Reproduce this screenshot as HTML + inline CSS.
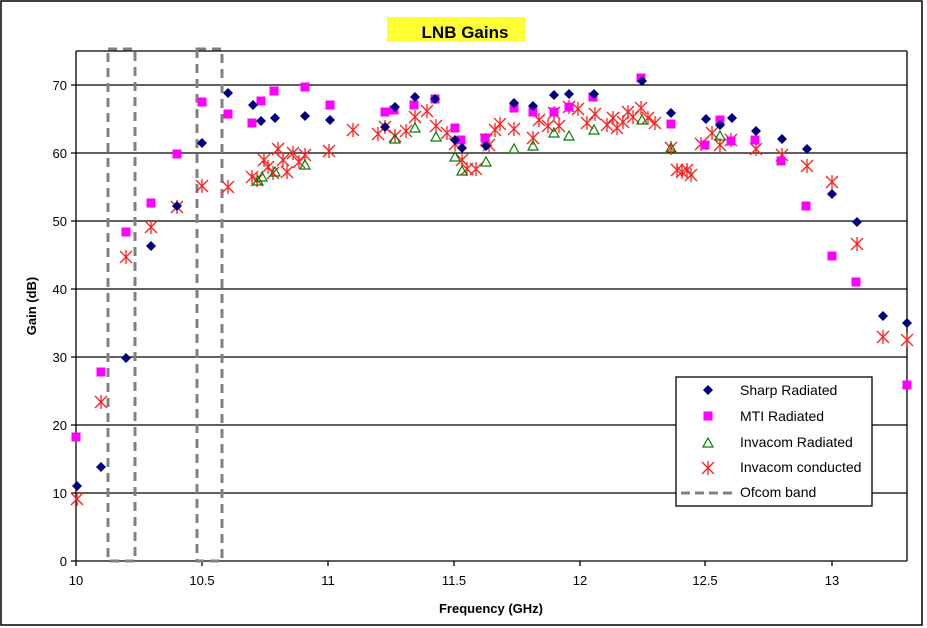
<!DOCTYPE html>
<html><head><meta charset="utf-8"><style>
body{margin:0;background:#fff;}
svg{display:block;font-family:"Liberation Sans",Arial,sans-serif;}
</style></head><body>
<svg id="s" width="927" height="628" xmlns="http://www.w3.org/2000/svg">
<rect x="1" y="1" width="921" height="624" fill="#fff" stroke="#000" stroke-width="1.5"/>
<rect x="387" y="17" width="138" height="25" fill="#ffff33"/>
<text x="465" y="38" text-anchor="middle" font-size="17" font-weight="bold">LNB Gains</text>
<g stroke="#000" stroke-width="1.3">
<line x1="76" y1="493" x2="907" y2="493"/><line x1="76" y1="425" x2="907" y2="425"/>
<line x1="76" y1="357" x2="907" y2="357"/><line x1="76" y1="289" x2="907" y2="289"/>
<line x1="76" y1="221" x2="907" y2="221"/><line x1="76" y1="153" x2="907" y2="153"/>
<line x1="76" y1="85" x2="907" y2="85"/>
<line x1="76" y1="51" x2="907" y2="51"/>
<line x1="907" y1="51" x2="907" y2="561"/>
<line x1="76" y1="51" x2="76" y2="561"/>
<line x1="76" y1="561" x2="907" y2="561"/>
<path d="M76 561v5M202 561v5M328 561v5M454 561v5M580 561v5M705 561v5M832 561v5M71 561h5M71 493h5M71 425h5M71 357h5M71 289h5M71 221h5M71 153h5M71 85h5"/>
</g>
<g stroke="#808080" stroke-width="3" stroke-dasharray="9,6" fill="none">
<rect x="108" y="49" width="27" height="512"/>
<rect x="197" y="49" width="25" height="512"/>
</g>
<g font-size="13" fill="#000" text-anchor="end">
<text x="67" y="566">0</text><text x="67" y="498">10</text><text x="67" y="430">20</text>
<text x="67" y="362">30</text><text x="67" y="294">40</text><text x="67" y="226">50</text>
<text x="67" y="158">60</text><text x="67" y="90">70</text>
</g>
<g font-size="13" text-anchor="middle">
<text x="76" y="585">10</text><text x="202" y="585">10.5</text><text x="328" y="585">11</text>
<text x="454" y="585">11.5</text><text x="580" y="585">12</text><text x="705" y="585">12.5</text>
<text x="832" y="585">13</text>
</g>
<text x="491" y="613" text-anchor="middle" font-size="13" font-weight="bold">Frequency (GHz)</text>
<text transform="translate(36,306) rotate(-90)" text-anchor="middle" font-size="13" font-weight="bold">Gain (dB)</text>
<g id="pts"></g>
<rect x="676" y="377" width="196" height="129" fill="#fff" stroke="#000" stroke-width="1.3"/>
<g font-size="14" fill="#000">
<text x="740" y="395">Sharp Radiated</text>
<text x="740" y="421">MTI Radiated</text>
<text x="740" y="447">Invacom Radiated</text>
<text x="740" y="472">Invacom conducted</text>
<text x="740" y="497">Ofcom band</text>
</g>
<line x1="681" y1="493" x2="736" y2="493" stroke="#808080" stroke-width="3" stroke-dasharray="9,5"/>
<g id="leg"></g>
</svg>
<script>
var NS="http://www.w3.org/2000/svg";
function el(p,t,a){var e=document.createElementNS(NS,t);for(var k in a)e.setAttribute(k,a[k]);p.appendChild(e);return e;}
var g=document.getElementById("pts"),L=document.getElementById("leg");
function dia(p,x,y){el(p,"polygon",{points:(x)+","+(y-5)+" "+(x+5)+","+y+" "+x+","+(y+5)+" "+(x-5)+","+y,fill:"#000080"});}
function sq(p,x,y){el(p,"rect",{x:x-4.5,y:y-4.5,width:9,height:9,fill:"#ff00ff"});}
function tri(p,x,y){el(p,"polygon",{points:x+","+(y-5)+" "+(x+5)+","+(y+4)+" "+(x-5)+","+(y+4),fill:"none",stroke:"#008000","stroke-width":1.2});}
function ast(p,x,y){var s="#ff2020",w=1.3;el(p,"line",{x1:x-6,y1:y-6,x2:x+6,y2:y+6,stroke:s,"stroke-width":w});el(p,"line",{x1:x-6,y1:y+6,x2:x+6,y2:y-6,stroke:s,"stroke-width":w});el(p,"line",{x1:x,y1:y-7,x2:x,y2:y+7,stroke:s,"stroke-width":w});}
var C=[[77,499],[101,402],[126,257],[151,227],[177,207],[202,186],[228,187],[252,177],[257,180],[264,160],[268,167],[273,173],[278,149],[283,160],[287,172],[293,153],[299,162],[305,155],[329,151],[353,130],[378,134],[385,127],[395,136],[406,131],[415,117],[427,111],[436,126],[447,133],[455,144],[462,160],[467,169],[476,169],[486,140],[489,145],[495,130],[500,124],[514,129],[533,138],[539,120],[548,126],[554,113],[559,126],[569,107],[578,109],[587,123],[595,114],[607,125],[613,118],[617,128],[623,122],[628,112],[633,117],[641,108],[648,118],[655,123],[671,148],[677,170],[682,172],[687,170],[691,175],[701,144],[712,133],[720,145],[731,140],[756,149],[782,155],[807,166],[832,182],[857,244],[883,337],[907,340]];
var T=[[258,181],[262,177],[275,172],[305,165],[395,139],[415,128],[436,137],[455,157],[462,171],[486,162],[514,149],[533,146],[554,133],[569,136],[594,130],[642,120],[671,148],[720,136]];
var M=[[76,437],[101,372],[126,232],[151,203],[177,154],[202,102],[228,114],[252,123],[261,101],[274,91],[305,87],[330,105],[385,112],[394,110],[414,105],[435,99],[455,128],[461,140],[485,138],[514,108],[533,112],[554,112],[569,107],[593,97],[641,78],[671,124],[720,120],[705,145],[731,141],[755,140],[781,161],[806,206],[832,256],[856,282],[907,385]];
var S=[[77,486],[101,467],[126,358],[151,246],[177,206],[202,143],[228,93],[253,105],[261,121],[275,118],[305,116],[330,120],[385,127],[395,107],[415,97],[435,99],[455,140],[462,148],[486,146],[514,103],[533,106],[554,95],[569,94],[594,94],[642,81],[671,113],[706,119],[720,125],[732,118],[756,131],[782,139],[807,149],[832,194],[857,222],[883,316],[907,323]];
C.forEach(function(p){ast(g,p[0],p[1]);});
T.forEach(function(p){tri(g,p[0],p[1]);});
M.forEach(function(p){sq(g,p[0],p[1]);});
S.forEach(function(p){dia(g,p[0],p[1]);});
dia(L,708,390);sq(L,708,416);tri(L,708,443);ast(L,708,468);
</script>
</body></html>
